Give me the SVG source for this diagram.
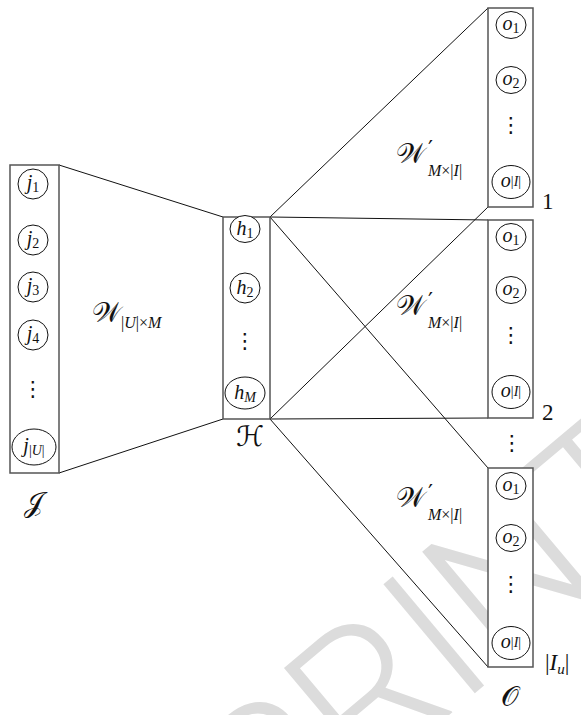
<svg xmlns="http://www.w3.org/2000/svg" width="581" height="715" viewBox="0 0 581 715">
<style>
.wm{fill:#dcdcdc;font-family:Roboto,"Liberation Sans",sans-serif;font-weight:300;font-size:200px}
.box{fill:#fff;stroke:#555;stroke-width:1.5}
.nd{fill:#fff;stroke:#111;stroke-width:1}
.ln{stroke:#111;stroke-width:1;fill:none}
.t{font-family:"Liberation Serif","DejaVu Serif",serif;fill:#111;text-anchor:middle;font-size:20px}
.l{font-family:"Liberation Serif","DejaVu Serif",serif;fill:#111;font-size:16px}
.i{font-style:italic}
.s{font-size:14px}
.cal{font-family:"DejaVu Sans","Noto Sans",serif;font-size:28px;font-style:normal}
.pr{font-family:"DejaVu Sans",sans-serif;font-size:22px;fill:#111}
.dots{font-family:"DejaVu Sans",sans-serif;font-size:21px;text-anchor:middle;fill:#111}
.num{font-family:"Liberation Serif",serif;font-size:23px;fill:#111}
</style>
<text class="wm" x="698" y="506" text-anchor="end" transform="rotate(-40 698 506)">PREPRINT</text>
<g id="connectors">
<line class="ln" x1="59" y1="165" x2="223" y2="217"/>
<line class="ln" x1="59" y1="473" x2="223" y2="419"/>
<line class="ln" x1="270" y1="217" x2="488" y2="8"/>
<line class="ln" x1="270" y1="217" x2="488" y2="220"/>
<line class="ln" x1="270" y1="217" x2="488" y2="468"/>
<line class="ln" x1="270" y1="419" x2="488" y2="207"/>
<line class="ln" x1="270" y1="419" x2="488" y2="418"/>
<line class="ln" x1="270" y1="419" x2="488" y2="667"/>
</g>
<g id="layer-J">
<rect class="box" x="10" y="165" width="49" height="308"/>
<g id="j1"><circle class="nd" cx="33" cy="184" r="15"/><text class="t" x="33" y="189"><tspan class="i">j</tspan><tspan class="s" dy="3">1</tspan></text></g>
<g id="j2"><circle class="nd" cx="33" cy="240" r="15"/><text class="t" x="33" y="245"><tspan class="i">j</tspan><tspan class="s" dy="3">2</tspan></text></g>
<g id="j3"><circle class="nd" cx="33" cy="287" r="15"/><text class="t" x="33" y="292"><tspan class="i">j</tspan><tspan class="s" dy="3">3</tspan></text></g>
<g id="j4"><circle class="nd" cx="33" cy="335" r="15"/><text class="t" x="33" y="340"><tspan class="i">j</tspan><tspan class="s" dy="3">4</tspan></text></g>
<text class="dots" x="33" y="396">⋮</text>
<g id="jU"><ellipse class="nd" cx="34" cy="447" rx="22" ry="18"/><text class="t" x="34" y="452"><tspan class="i">j</tspan><tspan class="s" dy="3">|</tspan><tspan class="s i">U</tspan><tspan class="s">|</tspan></text></g>
</g>
<g id="layer-H">
<rect class="box" x="223" y="217" width="47" height="202"/>
<g id="h1"><ellipse class="nd" cx="245" cy="229" rx="15" ry="13.5"/><text class="t" x="245" y="235"><tspan class="i">h</tspan><tspan class="s" dy="3">1</tspan></text></g>
<g id="h2"><circle class="nd" cx="245" cy="288" r="15"/><text class="t" x="245" y="294"><tspan class="i">h</tspan><tspan class="s" dy="3">2</tspan></text></g>
<text class="dots" x="245" y="348">⋮</text>
<g id="hM"><ellipse class="nd" cx="245" cy="393" rx="20" ry="16"/><text class="t" x="245" y="399"><tspan class="i">h</tspan><tspan class="s i" dy="3">M</tspan></text></g>
</g>
<g id="layer-O1">
<rect class="box" x="488" y="8" width="45" height="199"/>
<g id="o1-1"><ellipse class="nd" cx="511" cy="25" rx="15" ry="13.5"/><text class="t" x="511" y="30"><tspan class="i">o</tspan><tspan class="s" dy="3">1</tspan></text></g>
<g id="o1-2"><ellipse class="nd" cx="511" cy="80" rx="15" ry="13.5"/><text class="t" x="511" y="85"><tspan class="i">o</tspan><tspan class="s" dy="3">2</tspan></text></g>
<text class="dots" x="511" y="132">⋮</text>
<g id="o1-I"><ellipse class="nd" cx="511" cy="182" rx="19" ry="16.5"/><text class="t" x="511" y="187"><tspan class="i">o</tspan><tspan class="s" dy="-1">|</tspan><tspan class="s i">I</tspan><tspan class="s">|</tspan></text></g>
</g>
<g id="layer-O2">
<rect class="box" x="488" y="220" width="45" height="198"/>
<g id="o2-1"><ellipse class="nd" cx="511" cy="237" rx="15" ry="13.5"/><text class="t" x="511" y="242"><tspan class="i">o</tspan><tspan class="s" dy="3">1</tspan></text></g>
<g id="o2-2"><ellipse class="nd" cx="511" cy="290" rx="15" ry="13.5"/><text class="t" x="511" y="295"><tspan class="i">o</tspan><tspan class="s" dy="3">2</tspan></text></g>
<text class="dots" x="511" y="342">⋮</text>
<g id="o2-I"><ellipse class="nd" cx="511" cy="392" rx="19" ry="16.5"/><text class="t" x="511" y="397"><tspan class="i">o</tspan><tspan class="s" dy="-1">|</tspan><tspan class="s i">I</tspan><tspan class="s">|</tspan></text></g>
</g>
<text class="dots" x="512" y="450">⋮</text>
<g id="layer-O3">
<rect class="box" x="488" y="468" width="45" height="199"/>
<g id="o3-1"><ellipse class="nd" cx="511" cy="486" rx="15" ry="13.5"/><text class="t" x="511" y="491"><tspan class="i">o</tspan><tspan class="s" dy="3">1</tspan></text></g>
<g id="o3-2"><ellipse class="nd" cx="511" cy="538" rx="15" ry="13.5"/><text class="t" x="511" y="543"><tspan class="i">o</tspan><tspan class="s" dy="3">2</tspan></text></g>
<text class="dots" x="511" y="591">⋮</text>
<g id="o3-I"><ellipse class="nd" cx="511" cy="643" rx="19" ry="16.5"/><text class="t" x="511" y="648"><tspan class="i">o</tspan><tspan class="s" dy="-1">|</tspan><tspan class="s i">I</tspan><tspan class="s">|</tspan></text></g>
</g>
<g id="labels">
<text class="l" x="92" y="322"><tspan class="cal">𝒲</tspan><tspan dy="6">|</tspan><tspan class="i">U</tspan><tspan>|×</tspan><tspan class="i">M</tspan></text>
<text class="l" x="396" y="163"><tspan class="cal">𝒲</tspan></text>
<text class="pr" x="428" y="156">′</text>
<text class="l" x="428" y="176"><tspan class="i">M</tspan>×|<tspan class="i">I</tspan>|</text>
<text class="l" x="396" y="315"><tspan class="cal">𝒲</tspan></text>
<text class="pr" x="428" y="308">′</text>
<text class="l" x="428" y="328"><tspan class="i">M</tspan>×|<tspan class="i">I</tspan>|</text>
<text class="l" x="396" y="507"><tspan class="cal">𝒲</tspan></text>
<text class="pr" x="428" y="500">′</text>
<text class="l" x="428" y="520"><tspan class="i">M</tspan>×|<tspan class="i">I</tspan>|</text>
<text class="l" x="24" y="512"><tspan class="cal">𝒥</tspan></text>
<text class="l" x="236" y="446"><tspan class="cal">ℋ</tspan></text>
<text class="l" x="501" y="706"><tspan class="cal">𝒪</tspan></text>
<text class="num" x="542" y="209">1</text>
<text class="num" x="542" y="420">2</text>
<text class="num" x="545" y="670">|<tspan class="i">I</tspan><tspan font-size="15" class="i" dy="4">u</tspan><tspan dy="-4">|</tspan></text>
</g>
</svg>
